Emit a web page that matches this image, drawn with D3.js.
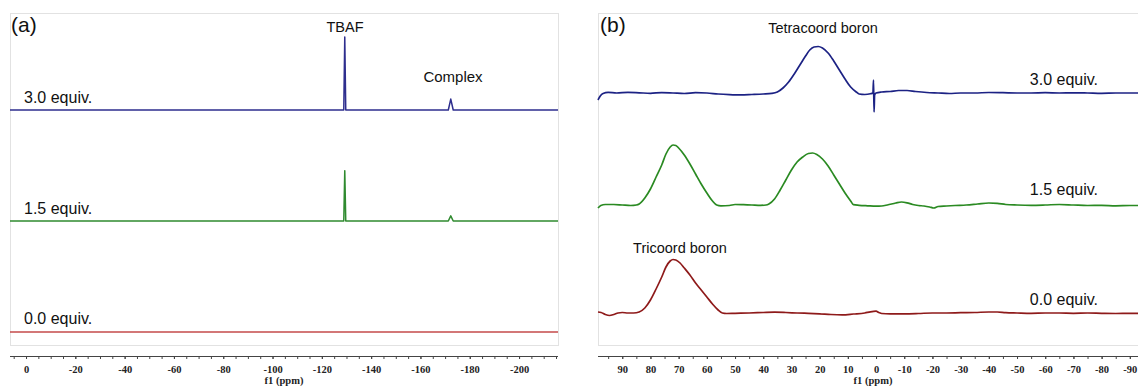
<!DOCTYPE html>
<html><head><meta charset="utf-8">
<script src="https://cdn.jsdelivr.net/npm/d3@7"></script>
<style>
body{margin:0;background:#fff;}
svg{display:block;}
.tick text{font-family:"Liberation Serif","DejaVu Serif",serif;font-weight:bold;font-size:10.5px;fill:#222;}
.lbl{font-family:Arial,"Liberation Sans",sans-serif;fill:#111;}
</style></head>
<body>
<svg id="c" width="1138" height="386"></svg>
<script>
// ---------- DATA ----------
const tickLabelsA = [0,-20,-40,-60,-80,-100,-120,-140,-160,-180,-200];
const tickLabelsB = [90,80,70,60,50,40,30,20,10,0,-10,-20,-30,-40,-50,-60,-70,-80,-90];
const seriesNamesA = ["3.0 equiv.","1.5 equiv.","0.0 equiv."];
const seriesNamesB = ["3.0 equiv.","1.5 equiv.","0.0 equiv."];

// Panel (a) 19F NMR, [ppm, intensity]
const fA_30 = [[6.5,0],[-60,0],[-105,0],[-128.9,0],[-129.3,100],[-129.7,0],[-150,0],[-171.3,0],[-172.3,15],[-173.3,0],[-215.8,0]];
const fA_15 = [[6.5,0],[-60,0],[-105,0],[-128.9,0],[-129.3,69],[-129.7,0],[-150,0],[-171.3,0],[-172.3,7],[-173.3,0],[-215.8,0]];
const fA_00 = [[6.5,0],[-60,0],[-129.3,0],[-172.3,0],[-215.8,0]];

// Panel (b) 11B NMR, [ppm, intensity]
const fB_30 = [[98.6,-7],[97.8,-3],[96.8,-0.5],[95,0.6],[92,0],[88,0.6],[84,0.2],[80,-0.3],[76,0.4],[72,0],[68,-0.5],[64,0.3],[60,0],[56,-1],[52,-1.6],[48,-1.9],[44,-1.5],[40,-1],[37,-0.4],[35,1],[33,5],[31,11],[29,19],[27,28],[25,37],[23.5,43],[22,46],[20.5,46.5],[19,45],[17,40],[15,32],[13,23],[11,14],[9,6],[7,1],[6,-1],[4,-1.5],[2,-0.8],[1.1,0],[0.9,13],[0.7,-19],[0.5,-2],[0,0],[-2,1],[-5,1.5],[-8,2.5],[-11,2.5],[-14,1.5],[-18,0.5],[-22,0],[-26,-0.5],[-30,0],[-35,0],[-40,0.5],[-45,0.3],[-50,0],[-55,0],[-60,0.3],[-65,0],[-70,0.2],[-75,0],[-80,-0.3],[-85,0],[-90,0],[-92.9,0]];
const fB_15 = [[98.6,-3],[97.6,-0.5],[96,0.5],[93,0.5],[90,0],[87,-0.5],[85,0],[84,1],[82,7],[80,16],[78,28],[76,40],[74.5,51],[73,58],[72,60],[71,59.5],[70,57],[68,50],[66,41],[64,31],[62,21],[60,12],[58,4],[56.5,0],[55,-0.8],[52,-0.5],[50,0.5],[47,0.3],[44,0],[41,-0.3],[39,0],[38,1],[36,6],[34,15],[32,25],[30,35],[28,43],[26,48],[24,51.5],[22.5,52],[21,50.5],[19,46],[17,39],[15,30],[13,21],[11,12],[9,4],[8,0.3],[6,-0.3],[3,-0.8],[0,-1.2],[-2,-1],[-4,0],[-7,2],[-9,3],[-11,2.2],[-13,0.5],[-15,-0.5],[-17,-1],[-19,-2],[-20.5,-3],[-22,-1.5],[-25,-1],[-28,-0.5],[-32,0],[-36,1],[-40,2],[-43,1.6],[-46,0.5],[-50,0],[-55,-0.3],[-60,0],[-65,0.5],[-70,0],[-75,-0.5],[-80,-0.3],[-85,-0.8],[-90,-0.5],[-92.9,-0.5]];
const fB_00 = [[98.6,1],[97.5,0.5],[96,-1.5],[94.5,-2.5],[93,-1.5],[91.5,0],[90,0.5],[88,0],[86,0],[84,1],[82,5],[80,13],[78,24],[76,36],[74.5,46],[73,52],[72,53.5],[71,53],[69.5,50],[68,45],[66,38],[64,30],[62,23],[60,16],[58,9],[56,3],[54.5,0],[53,-0.5],[50,-0.3],[45,0],[40,0.5],[36,0.8],[32,0.5],[28,0],[24,-0.3],[20,-0.8],[16,-1.5],[12,-1.8],[8,-1],[4,0],[2,1.2],[0,1.8],[-1,0.5],[-2,-0.5],[-5,-0.8],[-10,-0.8],[-15,-0.5],[-20,0],[-25,0],[-30,0.3],[-35,0.5],[-40,1],[-43,1],[-46,0.3],[-50,0],[-55,-0.3],[-60,0],[-65,0],[-70,-0.3],[-75,0],[-80,-0.3],[-85,-0.5],[-90,-0.3],[-92.9,-0.3]];

// ---------- DRAW ----------
const svg = d3.select("#c");
const xa = d3.scaleLinear().domain([6.5,-215.8]).range([10,558]);
const xb = d3.scaleLinear().domain([98.6,-92.9]).range([598,1138]);

svg.append("rect").attr("x",10.5).attr("y",13.5).attr("width",548).attr("height",332)
  .attr("fill","none").attr("stroke","#e2e2e2");
svg.append("rect").attr("x",598.5).attr("y",13.5).attr("width",560).attr("height",332)
  .attr("fill","none").attr("stroke","#e2e2e2");

function drawAxis(x, labels, minorStep, cx){
  const [d0,d1] = x.domain();
  const minor = d3.range(Math.ceil(d1/minorStep)*minorStep, d0+0.001, minorStep);
  const gm = svg.append("g").attr("transform","translate(0,356)")
    .call(d3.axisBottom(x).tickValues(minor).tickSize(3).tickFormat(""));
  gm.select(".domain").remove();
  gm.selectAll(".tick line").attr("stroke","#444");
  const g = svg.append("g").attr("transform","translate(0,356)")
    .call(d3.axisBottom(x).tickValues(labels).tickSize(3).tickPadding(7).tickFormat(d=>String(d)));
  g.select(".domain").attr("stroke","#444").attr("d",`M${x.range()[0]},0.5H${x.range()[1]}`);
  g.selectAll(".tick line").attr("stroke","#444");
  svg.append("text").attr("x",cx).attr("y",384).attr("text-anchor","middle")
    .attr("font-family",'"Liberation Serif",serif').attr("font-weight","bold").attr("font-size",10.5)
    .attr("fill","#222").text("f1 (ppm)");
}
drawAxis(xa, tickLabelsA, 5, 284);
drawAxis(xb, tickLabelsB, 5, 873);

function trace(x, data, base, pxPerUnit, color, w, curve){
  const y = d3.scaleLinear().domain([0,1]).range([base, base - pxPerUnit]);
  const line = d3.line().x(d=>x(d[0])).y(d=>y(d[1])).curve(curve||d3.curveLinear);
  svg.append("path").datum(data).attr("d",line).attr("fill","none")
    .attr("stroke",color).attr("stroke-width",w).attr("stroke-linejoin","round");
}
trace(xa, fA_30, 110, 0.73, "#2e2e8e", 1.5);
trace(xa, fA_15, 221, 0.73, "#2f8a2f", 1.5);
trace(xa, fA_00, 332, 0.73, "#c44a4a", 1.6);
trace(xb, fB_30, 93, 1, "#1c2284", 1.7, d3.curveMonotoneX);
trace(xb, fB_15, 205, 1, "#2a8a22", 1.7, d3.curveMonotoneX);
trace(xb, fB_00, 313, 1, "#8e1a1a", 1.7, d3.curveMonotoneX);

function txt(x,y,s,size,anchor){
  svg.append("text").attr("class","lbl").attr("x",x).attr("y",y).attr("font-size",size)
    .attr("text-anchor",anchor||"start").text(s);
}
txt(11,32,"(a)",21);
txt(345,32,"TBAF",14.5,"middle");
txt(453,82,"Complex",15,"middle");
txt(24,103,seriesNamesA[0],16);
txt(24,214,seriesNamesA[1],16);
txt(24,324,seriesNamesA[2],16);

txt(600,32,"(b)",21);
txt(823,33,"Tetracoord boron",14.5,"middle");
txt(1098,85,seriesNamesB[0],16,"end");
txt(1098,195,seriesNamesB[1],16,"end");
txt(680,253,"Tricoord boron",14.5,"middle");
txt(1098,305,seriesNamesB[2],16,"end");
</script>
</body></html>
